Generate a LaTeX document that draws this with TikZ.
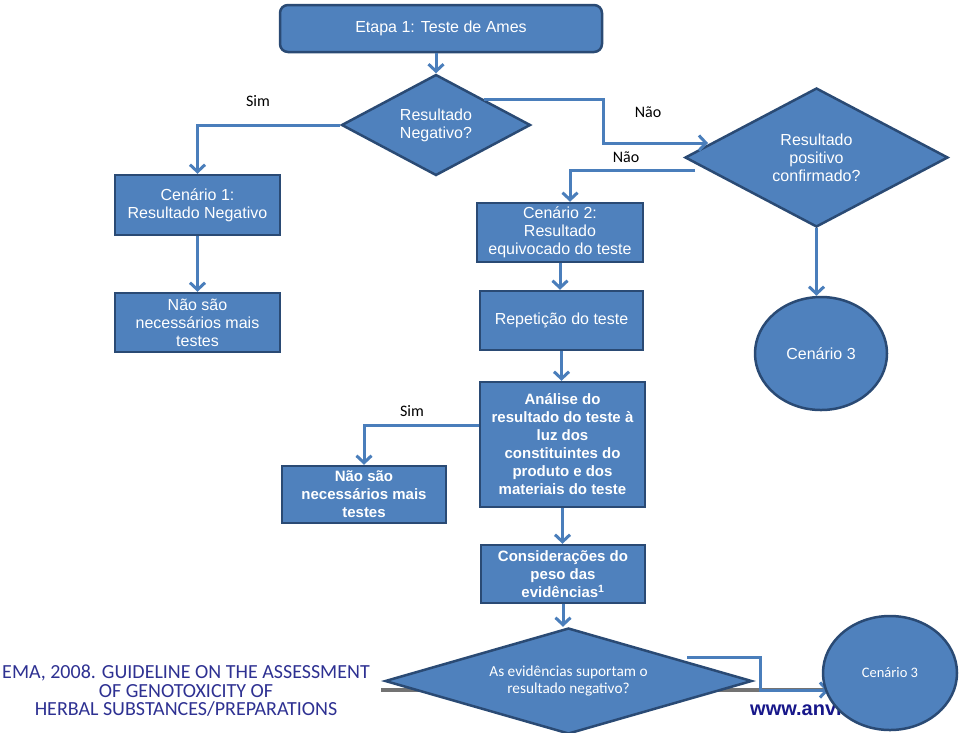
\documentclass[tikz,border=0pt]{standalone}
\usepackage{fontspec}
\setmainfont{Liberation Sans}
\newfontfamily\calib{Carlito}
\usetikzlibrary{shapes.geometric,arrows.meta,calc}
\definecolor{boxfill}{HTML}{4F81BD}
\definecolor{boxline}{HTML}{2A4A74}
\definecolor{conn}{HTML}{4A7EBB}
\definecolor{emablue}{HTML}{2E3192}
\definecolor{wwwblue}{HTML}{17178A}
\begin{document}
\begin{tikzpicture}[x=1pt,y=-1pt,
  every node/.style={inner sep=0pt},
  boxbase/.style={fill=boxfill,draw=boxline,line width=2.5pt,text=white,align=center},
  rbox/.style={boxbase,rectangle,font=\fontsize{16}{18}\selectfont},
  bbox/.style={boxbase,rectangle,font=\fontsize{15}{18}\selectfont\bfseries},
  dec/.style={boxbase,diamond,aspect=2,font=\fontsize{16}{18}\selectfont},
  oval/.style={boxbase,ellipse,font=\fontsize{16}{18}\selectfont},
  lab/.style={font=\calib\fontsize{16}{18}\selectfont},
  conline/.style={draw=conn,line width=3pt},
  arr/.style={conline,-{Straight Barb[length=7pt,width=15pt]}}
]
\useasboundingbox (0,0) rectangle (960,732);
\fill[white] (0,0) rectangle (960,732);

% background decoration
\draw[gray!90!black,line width=4pt] (381,690) -- (850,690);
\node[font=\calib\fontsize{20}{18.5}\selectfont,text=emablue,align=center] (ema) at (186,691)
  {EMA, 2008. GUIDELINE ON THE ASSESSMENT\\OF GENOTOXICITY OF\\HERBAL SUBSTANCES/PREPARATIONS};
\node[font=\fontsize{20}{20}\selectfont\bfseries,text=wwwblue,anchor=base west] (www) at (750,715) {www.anvisa.gov.br};

% nodes
\node[rbox,rounded corners=8pt,minimum width=322,minimum height=47] (etapa) at (441,28.5) {Etapa 1: Teste de Ames};
\node[dec,minimum width=189,minimum height=101] (d1) at (436,125) {Resultado\\Negativo?};
\node[dec,minimum width=263,minimum height=139] (d2) at (816.5,157.5) {Resultado\\positivo\\confirmado?};
\node[rbox,minimum width=165,minimum height=60] (c1) at (197.5,205) {Cenário 1:\\Resultado Negativo};
\node[rbox,minimum width=165,minimum height=59] (n1) at (197.5,322.5) {Não são\\necessários mais\\testes};
\node[rbox,minimum width=166,minimum height=59] (c2) at (560,232.5) {Cenário 2:\\Resultado\\equivocado do teste};
\node[rbox,minimum width=163,minimum height=59] (rep) at (561.5,320.5) {Repetição do teste};
\node[oval,minimum width=132,minimum height=113] (e1) at (821,353.5) {Cenário 3};
\node[bbox,minimum width=165,minimum height=125] (ana) at (562.5,444.5) {Análise do\\resultado do teste à\\luz dos\\constituintes do\\produto e dos\\materiais do teste};
\node[bbox,minimum width=164,minimum height=57] (n2) at (364,494.5) {Não são\\necessários mais\\testes};
\node[bbox,minimum width=164,minimum height=58] (cons) at (563,574) {Considerações do\\peso das\\evidências\textsuperscript{1}};
\node[dec,aspect=3.5,minimum width=367,minimum height=106,font=\calib\fontsize{15.3}{17.5}\selectfont] (d3) at (568.5,681) {As evidências suportam o\\resultado negativo?};

% labels
\node[lab] (l1) at (258,101) {Sim};
\node[lab] (l2) at (648,112) {Não};
\node[lab] (l3) at (626,157) {Não};
\node[lab] (l4) at (412,411) {Sim};

% helper coordinates
\coordinate (j1) at (603,143);
\coordinate (k2) at (708,143);
\coordinate (k3) at (695,170);
\coordinate (k4) at (687,657);
\coordinate (j2) at (760,690);
\coordinate (k5) at (829,690);

% connectors
\draw[arr] (etapa.south -| d1.north) -- (d1.north);
\draw[arr] (d1.west) -| (c1.north);
\draw[arr] (d1.north east) -| (j1) -- (k2);
\draw[arr] (k3) -| ($(c2.north)+(10,0)$);
\draw[arr] (c1.south) -- (n1.north);
\draw[arr] (c2.south) -- (c2.south |- rep.north);
\draw[arr] (rep.south) -- (rep.south |- ana.north);
\draw[arr] ($(ana.north west)+(0,45)$) -| (n2.north);
\draw[arr] (ana.south) -- (ana.south |- cons.north);
\draw[arr] (cons.south) -- (cons.south |- d3.north);
\draw[arr] (d2.south) -- (d2.south |- e1.north);
\draw[arr] (k4) -| (j2) -- (k5);

\node[oval,minimum width=134,minimum height=114,font=\calib\fontsize{14.5}{17}\selectfont] (e2) at (890,673) {Cenário 3};
\end{tikzpicture}
\end{document}
